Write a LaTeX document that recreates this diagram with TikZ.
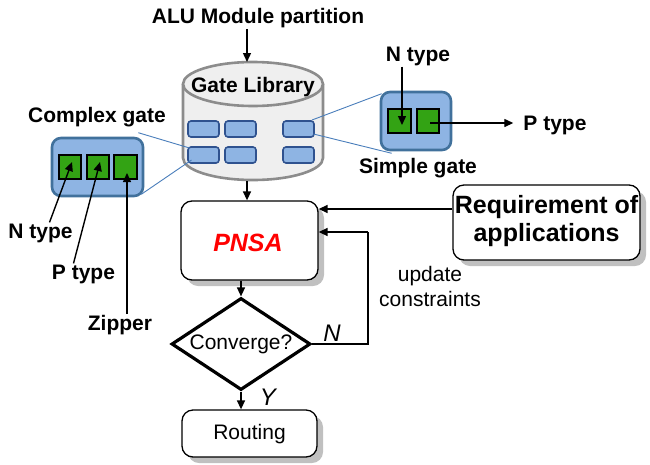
\documentclass[tikz,border=0pt]{standalone}
\usepackage{fontspec}
\setmainfont{Liberation Sans}
\usetikzlibrary{arrows.meta,shapes.geometric,shadows}
\definecolor{bluefill}{RGB}{142,180,227}
\definecolor{bluedark}{RGB}{47,82,143}
\definecolor{blueedge}{RGB}{65,113,156}
\definecolor{greenfill}{RGB}{51,163,20}
\definecolor{cylfill}{RGB}{239,239,239}
\definecolor{cyledge}{RGB}{140,140,140}
\definecolor{thinblue}{RGB}{74,126,187}
\definecolor{shadowgray}{RGB}{192,192,192}
\tikzset{
  arr/.style={line width=1.4pt,-{Triangle[length=9pt,width=8pt]}},
  txt/.style={font=\fontsize{21}{25}\selectfont, inner sep=1pt, align=center},
  btxt/.style={font=\fontsize{21}{25}\selectfont\bfseries, inner sep=1pt, align=center},
  cell/.style={draw=bluedark, fill=bluefill, line width=1.6pt, rounded corners=3pt, minimum width=31pt, minimum height=16pt, inner sep=0pt},
  gatebox/.style={draw=blueedge, fill=bluefill, line width=2.6pt, rounded corners=9pt, inner sep=0pt},
  gsq/.style={draw=black, fill=greenfill, line width=1.2pt, minimum width=22pt, minimum height=24pt, inner sep=0pt},
  thin/.style={draw=thinblue, line width=0.9pt},
  flowbox/.style={draw=black, fill=white, line width=1.3pt, rounded corners=11pt, inner sep=0pt,
    drop shadow={shadow xshift=6pt, shadow yshift=-6pt, fill=shadowgray, opacity=1}},
}
\begin{document}
\begin{tikzpicture}[x=1pt,y=-1pt]
\useasboundingbox (0,0) rectangle (650,464);

% title
\node[btxt] (alu) at (258,18) {ALU Module partition};

% cylinder
\fill[cylfill] (183,84) -- (183,158) arc[start angle=180,end angle=360,x radius=70,y radius=-22] -- (323,84) -- cycle;
\draw[cyledge, line width=2.6pt] (183,84) -- (183,158) arc[start angle=180,end angle=360,x radius=70,y radius=-22] -- (323,84);
\draw[cyledge, line width=2.6pt, fill=cylfill] (253,84) ellipse[x radius=70, y radius=22];
\node[btxt] (lib) at (253,87) {Gate Library};
\coordinate (cyltop) at (247,62);
\coordinate (cylbot) at (247,181);

\node[cell] (r11) at (203.5,129) {};
\node[cell] (r12) at (240.5,129) {};
\node[cell] (r13) at (298.5,129) {};
\node[cell] (r21) at (203.5,155) {};
\node[cell] (r22) at (240.5,155) {};
\node[cell] (r23) at (298.5,155) {};

\draw[arr] (alu.south -| cyltop) -- (cyltop);

% complex gate
\node[btxt] (cgl) at (97,117) {Complex gate};
\node[gatebox, minimum width=91pt, minimum height=58pt] (cx) at (97.5,167) {};
\node[gsq] (g1) at (70,167) {};
\node[gsq] (g2) at (98,167) {};
\node[gsq, minimum width=23pt] (g3) at (125.5,167) {};
\draw[thin] ([shift={(-6,-4)}]cx.north east) -- ([shift={(-14,-7)}]r21.center);
\draw[thin] ([shift={(-3,-3)}]cx.south east) -- ([shift={(-12,5)}]r21.center);

\node[btxt] (lnt) at (40.5,233) {N type};
\node[btxt] (lpt) at (83.5,274) {P type};
\node[btxt] (lzp) at (120,325) {Zipper};
\draw[arr] ([xshift=9pt]lnt.north) -- ([shift={(2,-5)}]g1.center);
\draw[arr] ([xshift=-10pt]lpt.north) -- ([shift={(2,-5)}]g2.center);
\coordinate (zt) at ([shift={(1.5,6)}]g3.center);
\draw[arr] (lzp.north -| zt) -- (zt);

% simple gate
\node[gatebox, minimum width=70pt, minimum height=58pt] (sx) at (416,121) {};
\node[gsq, minimum width=23pt] (s1) at (399.5,121) {};
\node[gsq] (s2) at (428,121) {};
\draw[thin] ([shift={(13.5,-9)}]r13.center) -- ([shift={(2,3)}]sx.north west);
\draw[thin] ([shift={(15,5)}]r13.center) -- ([shift={(12,2)}]sx.south west);
\node[btxt] (lns) at (418,56) {N type};
\node[btxt] (lps) at (555,125) {P type};
\node[btxt] (sgl) at (418,168) {Simple gate};
\coordinate (nt2) at ([shift={(2.5,4)}]s1.center);
\draw[arr] (lns.south -| nt2) -- (nt2);
\coordinate (pt2) at ([shift={(2,2)}]s2.center);
\coordinate (pt2e) at ([xshift=-9pt]lps.west);
\draw[arr] (pt2) -- (pt2 -| pt2e);

% flow
\node[flowbox, minimum width=137pt, minimum height=79pt] (pnsa) at (249.5,240.5) {};
\node[font=\fontsize{25}{28}\selectfont\bfseries\itshape, text=red] (pnsat) at (248,243) {PNSA};
\node[flowbox, minimum width=187pt, minimum height=75pt] (req) at (546.5,222.5) {};
\node[font=\fontsize{25}{28}\selectfont\bfseries, align=center, inner sep=0pt] (reqt) at (546.5,221.5) {Requirement of\\applications};

\draw[arr] (cylbot) -- (cylbot |- pnsa.north);
\coordinate (rq) at ([yshift=13.5pt]req.west);
\draw[arr] (rq) -- (rq -| pnsa.east);

\node[draw=black, line width=3.2pt, shape=diamond, aspect=1.5, minimum width=139pt, minimum height=92pt, inner sep=0pt] (dm) at (241,344) {};
\node[txt] (conv) at (241,344) {Converge?};
\draw[arr] (dm.north |- pnsa.south) -- (dm.north);

\coordinate (fbc) at (368,232);
\draw[line width=1.2pt] (dm.east) -| (fbc);
\draw[arr] (fbc) -- (fbc -| pnsa.east);
\node[txt] (upd) at (430,286) {update\\constraints};
\node[font=\fontsize{24}{26}\selectfont\itshape] (nlab) at (332,333) {N};

\node[flowbox, minimum width=135pt, minimum height=47pt] (rt) at (249.5,433.5) {};
\node[txt] (rtt) at (249.5,434) {Routing};
\draw[arr] (dm.south) -- (dm.south |- rt.north);
\node[font=\fontsize{24}{26}\selectfont\itshape] (ylab) at (268,397) {Y};
\end{tikzpicture}
\end{document}
